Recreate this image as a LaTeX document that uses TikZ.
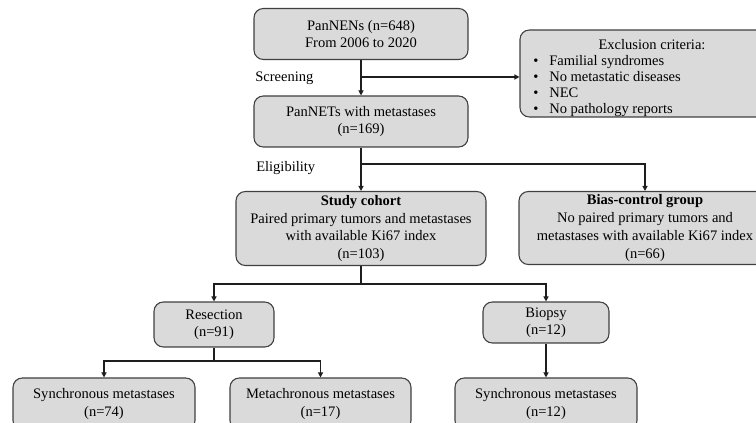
\documentclass[tikz,border=0pt]{standalone}
\usepackage{fontspec}
\setmainfont{Liberation Serif}
\usetikzlibrary{arrows.meta,calc}
\definecolor{boxfill}{RGB}{218,218,218}
\definecolor{boxdraw}{RGB}{64,64,64}
\definecolor{linec}{RGB}{30,30,30}
\tikzset{
  fbox/.style={draw=boxdraw, fill=boxfill, line width=0.8pt, rounded corners=7pt,
    align=center, inner sep=0pt, font=\fontsize{10.9pt}{13pt}\selectfont},
  conn/.style={draw=linec, line width=0.9pt},
  arr/.style={conn, -{Triangle[length=3.8pt,width=3.8pt]}},
  lbl/.style={font=\fontsize{10.9pt}{13pt}\selectfont, inner sep=0pt, anchor=west},
}
\begin{document}
\begin{tikzpicture}[x=0.75pt, y=-0.75pt]
\useasboundingbox (0,0) rectangle (756,423);
% boxes
\node[fbox, minimum width=214*0.75pt, minimum height=51*0.75pt, font=\fontsize{10.9pt}{12.5pt}\selectfont] (n1) at (361,34) {PanNENs (n=648)\\From 2006 to 2020};
\node[fbox, minimum width=214*0.75pt, minimum height=51*0.75pt, font=\fontsize{10.9pt}{12.5pt}\selectfont] (n2) at (361,121.5) {PanNETs with metastases\\(n=169)};
\node[fbox, minimum width=264*0.75pt, minimum height=87*0.75pt] (excl) at (652,73.5) {};
\node[inner sep=0pt, font=\fontsize{10.9pt}{12pt}\selectfont] (exclt) at (652,45) {Exclusion criteria:};
\node[inner sep=0pt, anchor=north west, align=left, font=\fontsize{10.9pt}{12pt}\selectfont] (excll) at (533,55.5)
  {\makebox[12pt][l]{•}Familial syndromes\\
   \makebox[12pt][l]{•}No metastatic diseases\\
   \makebox[12pt][l]{•}NEC\\
   \makebox[12pt][l]{•}No pathology reports};
\node[fbox, minimum width=250*0.75pt, minimum height=74*0.75pt, font=\fontsize{10.9pt}{13.3pt}\selectfont] (study) at (361,228.5)
  {\textbf{Study cohort}\\Paired primary tumors and metastases\\with available Ki67 index\\(n=103)};
\node[fbox, minimum width=252*0.75pt, minimum height=73*0.75pt, font=\fontsize{10.9pt}{13.3pt}\selectfont] (bias) at (645,228)
  {\textbf{Bias-control group}\\No paired primary tumors and\\metastases with available Ki67 index\\(n=66)};
\node[fbox, minimum width=120*0.75pt, minimum height=45*0.75pt] (resec) at (214,324.5) {Resection\\(n=91)};
\node[fbox, minimum width=126*0.75pt, minimum height=41*0.75pt] (biopsy) at (546,322.5) {Biopsy\\(n=12)};
\node[fbox, minimum width=182*0.75pt, minimum height=52*0.75pt] (syncl) at (104,404) {Synchronous metastases\\(n=74)};
\node[fbox, minimum width=181*0.75pt, minimum height=52*0.75pt] (meta) at (320.5,404) {Metachronous metastases\\(n=17)};
\node[fbox, minimum width=182*0.75pt, minimum height=52*0.75pt] (syncr) at (546,404) {Synchronous metastases\\(n=12)};
% labels
\node[lbl] (scrl) at (255,78) {Screening};
\node[lbl] (elgl) at (256,168) {Eligibility};
% connectors
\coordinate (scr) at (361,77);
\coordinate (elg) at (361,164);
\coordinate (spl) at (361,284);
\coordinate (rs) at (214,361);
\draw[arr] (n1.south) -- (n2.north);
\draw[arr] (scr) -- (scr -| excl.west);
\draw[arr] (n2.south) -- (study.north);
\draw[arr] (elg) -| (bias.north);
\draw[conn] (study.south) -- (spl);
\draw[arr] (spl) -| (resec.north);
\draw[arr] (spl) -| (biopsy.north);
\draw[conn] (resec.south) -- (rs);
\draw[arr] (rs) -| (syncl.north);
\draw[arr] (rs) -| (meta.north);
\draw[arr] (biopsy.south) -- (syncr.north);
\end{tikzpicture}
\end{document}
